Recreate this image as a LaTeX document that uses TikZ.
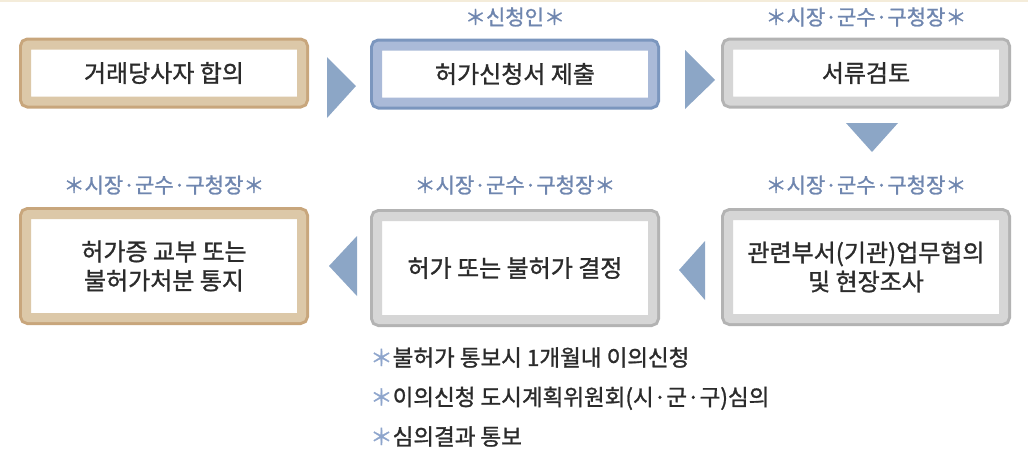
\documentclass[tikz,border=0pt]{standalone}
\usepackage{fontspec}
\setmainfont{Noto Sans CJK KR}
\newfontfamily\heavyfont[FakeBold=1.2]{Noto Sans CJK KR}
\usepackage{tikz}
\definecolor{TanDark}{HTML}{C8A67C}
\definecolor{TanLight}{HTML}{DCC8A8}
\definecolor{BlueDark}{HTML}{7B96BE}
\definecolor{BlueLight}{HTML}{AABAD8}
\definecolor{GrayDark}{HTML}{B3B3B3}
\definecolor{GrayLight}{HTML}{D6D6D6}
\definecolor{ArrowBlue}{HTML}{8CA6C6}
\definecolor{LabelBlue}{HTML}{6F86AF}
\definecolor{StarBlue}{HTML}{8EA5CC}
\definecolor{TextDark}{HTML}{2B2B2B}
\definecolor{TopLine}{HTML}{F4ECDA}
\newcommand{\notestar}{{\heavyfont\color{StarBlue}＊}}

\begin{document}
\begin{tikzpicture}[x=1pt,y=-1pt,
    procbox/.style={fill=white,draw=#1Light,line width=9pt,rounded corners=2pt,
                    preaction={draw=#1Dark,line width=15pt,rounded corners=2pt},
                    inner sep=0pt,outer sep=0pt,minimum width=275pt,
                    align=center,text=TextDark,font=\heavyfont\fontsize{24}{29}\selectfont},
    rowone/.style={minimum height=56pt},
    rowtwo/.style={minimum height=103pt},
    tag/.style={text=LabelBlue,font=\heavyfont\fontsize{21}{24}\selectfont,inner sep=0pt},
    arrowtri/.style={fill=ArrowBlue}
  ]
  \useasboundingbox (0,0) rectangle (1028,459);
  \fill[TopLine] (0,0) rectangle (1028,2);

  % first row
  \node[procbox=Tan,rowone]  (agree)  at (164,73) {거래당사자 합의};
  \node[procbox=Blue,rowone] (submit) at (515,74) {허가신청서 제출};
  \node[procbox=Gray,rowone] (review) at (866,73) {서류검토};
  \node[tag] (tagsubmit) at (515,17) {＊신청인＊};
  \node[tag] (tagreview) at (866,17) {＊시장·군수·구청장＊};

  % second row
  \node[procbox=Tan,rowtwo]  (notify) at (164,266) {허가증 교부 또는\\불허가처분 통지};
  \node[procbox=Gray,rowtwo] (decide) at (515,268) {허가 또는 불허가 결정};
  \node[procbox=Gray,rowtwo] (survey) at (866,267) {관련부서(기관)업무협의\\및 현장조사};
  \node[tag] (tagnotify) at (164,185) {＊시장·군수·구청장＊};
  \node[tag] (tagdecide) at (515,185) {＊시장·군수·구청장＊};
  \node[tag] (tagsurvey) at (866,185) {＊시장·군수·구청장＊};

  % arrows between steps
  \fill[arrowtri] (327,57) -- (356,86) -- (327,118) -- cycle;
  \fill[arrowtri] (685,50) -- (715,80) -- (685,109) -- cycle;
  \fill[arrowtri] (846,123) -- (898,123) -- (872,152) -- cycle;
  \fill[arrowtri] (705,241) -- (679,270) -- (705,300) -- cycle;
  \fill[arrowtri] (357,236) -- (329,266) -- (357,296) -- cycle;

  % notes below the decision
  \node[anchor=west,align=left,inner sep=0pt,text=TextDark,
        font=\heavyfont\fontsize{22.5}{39.5}\selectfont] (notes) at (370,397)
    {\notestar 불허가 통보시 1개월내 이의신청\\
     \notestar 이의신청 도시계획위원회(시·군·구)심의\\
     \notestar 심의결과 통보};
\end{tikzpicture}
\end{document}
